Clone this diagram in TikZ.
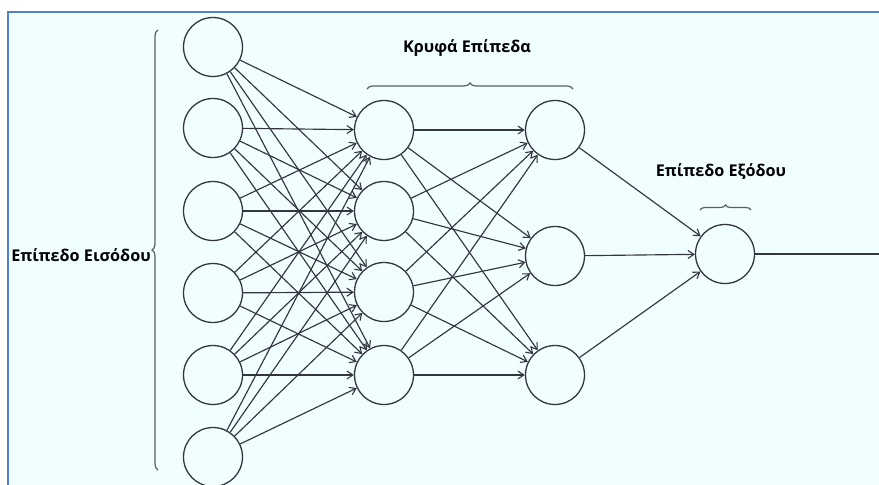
\documentclass[tikz,border=0pt]{standalone}
\usepackage{fontspec}
\setmainfont{Open Sans}
\usetikzlibrary{arrows.meta,decorations.pathreplacing}
\definecolor{bgcyan}{HTML}{F0FEFF}
\definecolor{frameblue}{HTML}{4F80D2}
\definecolor{wire}{HTML}{33353F}
\definecolor{bracegray}{HTML}{5A5E66}
\begin{document}
\begin{tikzpicture}[x=1pt,y=-1pt,
  neuron/.style={circle,draw=wire,line width=1.3pt,fill=bgcyan,minimum size=59pt,inner sep=0pt},
  link/.style={draw=wire,line width=1.15pt,-{Straight Barb[length=6pt,width=8pt,line width=1.1pt]}},
  plain/.style={draw=wire,line width=1.15pt},
  bracket/.style={draw=bracegray,line width=1.2pt,decorate,decoration={brace,amplitude=#1}},
  caption/.style={font=\fontsize{16.2}{19}\selectfont\bfseries,text=black,inner sep=0pt}]
  \useasboundingbox (0,0) rectangle (879,485);
  % canvas and frame
  \fill[bgcyan] (8,12) rectangle (879,485);
  \draw[frameblue,line width=1.5pt] (8,485) -- (8,12) -- (879,12);

  % input layer
  \foreach \i/\y in {1/47,2/128,3/211,4/293,5/375,6/457}
    \node[neuron] (in\i) at (213,\y) {};
  % first hidden layer
  \foreach \i/\y in {1/130,2/211,3/292,4/375}
    \node[neuron] (ha\i) at (384,\y) {};
  % second hidden layer
  \foreach \i/\y in {1/130,2/256,3/375}
    \node[neuron] (hb\i) at (555,\y) {};
  % output layer
  \node[neuron] (out) at (725,254) {};
  \coordinate (exit) at (879,254);

  % connections
  \foreach \i in {1,...,6}
    \foreach \j in {1,...,4}
      \path[link] (in\i) -- (ha\j);
  \foreach \i in {1,...,4}
    \foreach \j in {1,...,3}
      \path[link] (ha\i) -- (hb\j);
  \foreach \i in {1,...,3}
    \path[link] (hb\i) -- (out);
  \path[plain] (out) -- (exit);

  % layer braces
  \coordinate (inbot) at (158,470);
  \coordinate (intop) at (158,30);
  \draw[bracket=6pt] (inbot) -- (intop);
  \coordinate (hl) at (367,89);
  \coordinate (hr) at (573,89);
  \draw[bracket=6pt] (hl) -- (hr);
  \coordinate (ol) at (700,210);
  \coordinate (or) at (751,210);
  \draw[bracket=5pt] (ol) -- (or);

  % labels
  \node[caption] (lin) at (81,255) {Επίπεδο Εισόδου};
  \node[caption] (lhid) at (467,48) {Κρυφά Επίπεδα};
  \node[caption] (lout) at (721,172) {Επίπεδο Εξόδου};
\end{tikzpicture}
\end{document}
